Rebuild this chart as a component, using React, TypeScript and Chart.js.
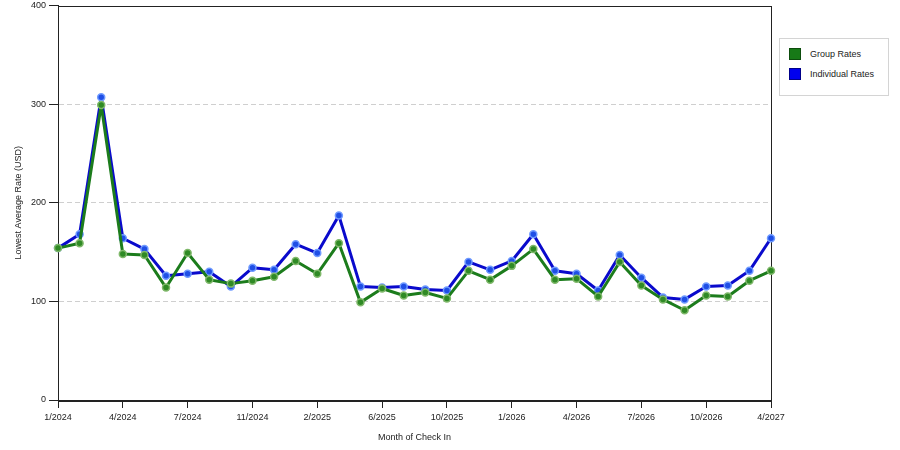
import React, { useEffect, useRef } from "react";
import { Chart, registerables } from "chart.js";

Chart.register(...registerables);

const months: string[] = [
  "1/2024", "2/2024", "3/2024", "4/2024", "5/2024", "6/2024", "7/2024", "8/2024", "9/2024",
  "11/2024", "12/2024", "1/2025", "2/2025", "3/2025", "4/2025", "6/2025", "7/2025", "8/2025",
  "10/2025", "11/2025", "12/2025", "1/2026", "2/2026", "3/2026", "4/2026", "5/2026", "6/2026",
  "7/2026", "8/2026", "9/2026", "10/2026", "12/2026", "2/2027", "4/2027",
];

const groupRates: number[] = [
  154, 159, 299, 148, 147, 114, 149, 122, 118, 121, 125, 141, 128, 159, 99, 113, 106,
  109, 103, 131, 122, 136, 153, 122, 123, 105, 140, 116, 102, 91, 106, 105, 121, 131,
];

const individualRates: number[] = [
  154, 168, 307, 164, 153, 126, 128, 130, 115, 134, 132, 158, 149, 187, 115, 114, 115,
  112, 111, 140, 132, 141, 168, 131, 128, 111, 147, 124, 104, 102, 115, 116, 131, 164,
];

const yTicks: number[] = [0, 100, 200, 300, 400];

const FONT = "'Liberation Sans', Arial, sans-serif";

const framePlugin = {
  id: "frame",
  beforeDatasetsDraw(chart: any) {
    const { ctx, chartArea } = chart;
    ctx.save();
    ctx.strokeStyle = "#222";
    ctx.lineWidth = 1;
    ctx.strokeRect(
      Math.round(chartArea.left) + 0.5,
      Math.round(chartArea.top) + 0.5,
      Math.round(chartArea.right - chartArea.left),
      Math.round(chartArea.bottom - chartArea.top)
    );
    ctx.restore();
  },
};

export default function App() {
  const ref = useRef<HTMLCanvasElement | null>(null);

  useEffect(() => {
    if (!ref.current) return;
    const chart = new Chart(ref.current, {
      type: "line",
      data: {
        labels: months,
        datasets: [
          {
            label: "Group Rates",
            data: groupRates,
            borderColor: "#1c7c1c",
            borderWidth: 3,
            borderJoinStyle: "round",
            pointRadius: 3.5,
            pointBackgroundColor: "#2f8a25",
            pointBorderColor: "#7fb86a",
            pointBorderWidth: 1.5,
            tension: 0,
            clip: false as any,
          },
          {
            label: "Individual Rates",
            data: individualRates,
            borderColor: "#0a0acc",
            borderWidth: 3,
            borderJoinStyle: "round",
            pointRadius: 3.5,
            pointBackgroundColor: "#1f4fe6",
            pointBorderColor: "#6f9aff",
            pointBorderWidth: 1.5,
            tension: 0,
            clip: false as any,
          },
        ],
      },
      options: {
        responsive: false,
        animation: false,
        layout: { padding: { top: 5, right: 129, left: 0, bottom: 0 } },
        plugins: {
          legend: { display: false },
          tooltip: { enabled: false },
        },
        scales: {
          x: {
            type: "category",
            offset: false,
            grid: {
              drawOnChartArea: false,
              drawTicks: true,
              tickLength: 8,
              tickColor: (c: any) => (c.index % 3 === 0 ? "#222" : "rgba(0,0,0,0)"),
            },
            border: { display: true, color: "#222" },
            ticks: {
              autoSkip: false,
              maxRotation: 0,
              minRotation: 0,
              padding: 4,
              color: "#222",
              font: { family: FONT, size: 9 },
              callback: (_v: any, i: number) => (i % 3 === 0 ? months[i] : ""),
            },
            title: {
              display: true,
              text: "Month of Check In",
              color: "#222",
              font: { family: FONT, size: 9 },
              padding: { top: 4, bottom: 7 },
            },
            afterFit: (s: any) => {
              s.height = 50;
              s.paddingLeft = 0;
              s.paddingRight = 0;
            },
          },
          y: {
            min: 0,
            max: 400,
            afterBuildTicks: (s: any) => {
              s.ticks = yTicks.map((v) => ({ value: v }));
            },
            grid: {
              color: (c: any) =>
                c.tick && (c.tick.value === 0 || c.tick.value === 400) ? "rgba(0,0,0,0)" : "#cfcfcf",
              drawTicks: true,
              tickLength: 9,
              tickColor: "#222",
            },
            border: { display: true, color: "#222", dash: [5, 3] },
            ticks: {
              padding: 3,
              color: "#222",
              font: { family: FONT, size: 9 },
            },
            title: {
              display: true,
              text: "Lowest Average Rate (USD)",
              color: "#222",
              font: { family: FONT, size: 9 },
              padding: { top: 13, bottom: 0 },
            },
            afterFit: (s: any) => {
              s.width = 58;
              s.paddingTop = 0;
              s.paddingBottom = 0;
            },
          },
        },
      },
      plugins: [framePlugin],
    });
    return () => chart.destroy();
  }, []);

  const swatch = (color: string, border: string) => ({
    display: "inline-block",
    width: 12,
    height: 12,
    background: color,
    border: `1px solid ${border}`,
    boxSizing: "border-box" as const,
    marginRight: 9,
    verticalAlign: "middle",
  });

  return (
    <div style={{ position: "fixed", left: 0, top: 0, width: 900, height: 450, background: "#fff" }}>
      <canvas ref={ref} width={900} height={450} style={{ display: "block" }} />
      <div
        style={{
          position: "absolute",
          left: 779,
          top: 38,
          width: 110,
          height: 58,
          border: "1px solid #d4d4d4",
          boxSizing: "border-box",
          fontFamily: FONT,
          fontSize: 9,
          color: "#222",
          background: "#fff",
        }}
      >
        <div style={{ position: "absolute", left: 9, top: 9, display: "flex", alignItems: "center", whiteSpace: "nowrap" }}>
          <span style={swatch("#177a17", "#0d4d0d")} />
          <span>Group Rates</span>
        </div>
        <div style={{ position: "absolute", left: 9, top: 29, display: "flex", alignItems: "center", whiteSpace: "nowrap" }}>
          <span style={swatch("#0000ee", "#00008a")} />
          <span>Individual Rates</span>
        </div>
      </div>
    </div>
  );
}
